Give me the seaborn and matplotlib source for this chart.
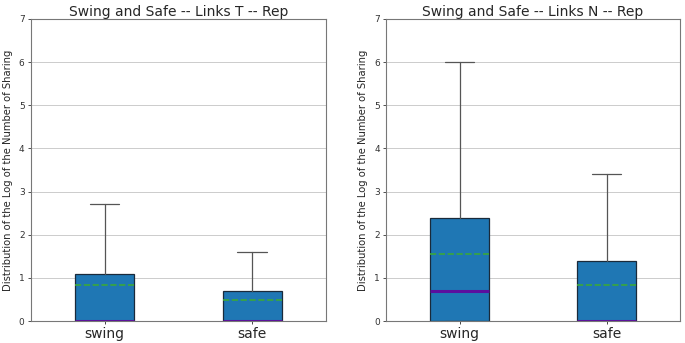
import matplotlib
matplotlib.use("Agg")
import matplotlib.pyplot as plt
import seaborn as sns

# Kategorien und Boxplot-Kennwerte (Log der Anzahl Shares)
categories = ['swing', 'safe']
titles = ['Swing and Safe -- Links T -- Rep', 'Swing and Safe -- Links N -- Rep']

# Links T
t_q1 = [0.0, 0.0]
t_med = [0.0, 0.0]
t_q3 = [1.0986, 0.6931]
t_whislo = [0.0, 0.0]
t_whishi = [2.708, 1.609]
t_mean = [0.83, 0.49]

# Links N
n_q1 = [0.0, 0.0]
n_med = [0.6931, 0.0]
n_q3 = [2.398, 1.386]
n_whislo = [0.0, 0.0]
n_whishi = [5.99, 3.40]
n_mean = [1.56, 0.83]

ylabel = 'Distribution of the Log of the Number of Sharing'

sns.set_style('ticks')
plt.rcParams['font.family'] = ['DejaVu Sans']


def make_stats(q1, med, q3, lo, hi, mean):
    stats = []
    for i, cat in enumerate(categories):
        stats.append({'label': cat, 'q1': q1[i], 'med': med[i], 'q3': q3[i],
                      'whislo': lo[i], 'whishi': hi[i], 'mean': mean[i],
                      'fliers': []})
    return stats


fig = plt.figure(figsize=(6.85, 3.43), dpi=100)
ax1 = fig.add_axes([0.045, 0.064, 0.431, 0.881])
ax2 = fig.add_axes([0.5635, 0.064, 0.4295, 0.881])

all_stats = [make_stats(t_q1, t_med, t_q3, t_whislo, t_whishi, t_mean),
             make_stats(n_q1, n_med, n_q3, n_whislo, n_whishi, n_mean)]

for ax, stats, title in zip([ax1, ax2], all_stats, titles):
    ax.bxp(stats, widths=0.4, patch_artist=True, showmeans=True, meanline=True,
           showfliers=False,
           boxprops=dict(facecolor='#1f77b4', edgecolor='#1a2a3a', linewidth=0.9),
           medianprops=dict(color='#5b0f9e', linewidth=2.2),
           meanprops=dict(color='#3aa83a', linestyle='--', linewidth=1.2),
           whiskerprops=dict(color='#555555', linewidth=0.9),
           capprops=dict(color='#555555', linewidth=0.9))
    ax.set_ylim(0, 7)
    ax.set_yticks(range(0, 8))
    ax.yaxis.grid(True, color='#cccccc', linewidth=0.7)
    ax.set_axisbelow(True)
    ax.set_title(title, fontsize=10, pad=2)
    ax.set_ylabel(ylabel, fontsize=7.2, labelpad=4)
    ax.tick_params(axis='y', labelsize=6.5, length=2.5, width=0.6, pad=2, colors='#333333')
    ax.tick_params(axis='x', labelsize=10, length=2.5, width=0.6, pad=2)
    for sp in ax.spines.values():
        sp.set_color('#777777')
        sp.set_linewidth(0.8)

fig.savefig('out.png', dpi=100)
